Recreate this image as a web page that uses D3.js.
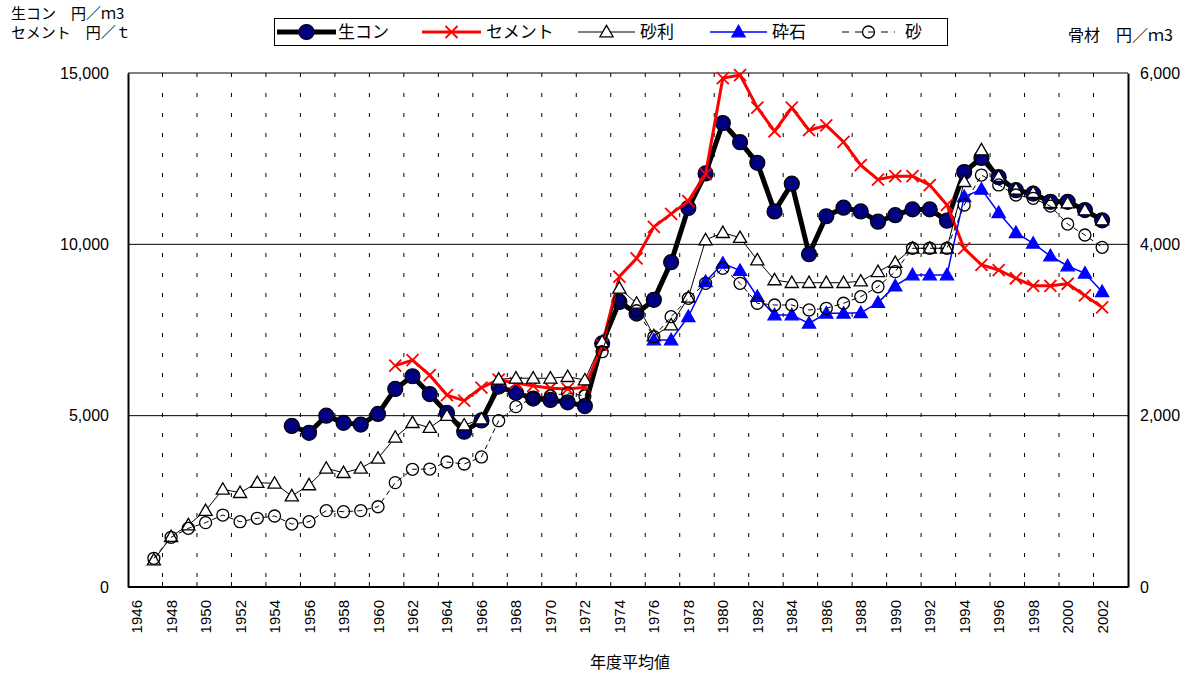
<!DOCTYPE html>
<html><head><meta charset="utf-8">
<script src="https://cdn.jsdelivr.net/npm/d3@7"></script>
<style>
body{margin:0;background:#fff;}
svg{display:block;}
text{font-family:"Liberation Sans",Arial,sans-serif;}
.jp{font-family:"Noto Sans CJK JP","Noto Sans",sans-serif;}
</style></head>
<body>
<svg id="c" width="1195" height="675"></svg>
<script>
const years = d3.range(1946, 2004);
const xTickLabels = d3.range(1946, 2004, 2);
const leftTicks = [0, 5000, 10000, 15000];
const rightTicks = [0, 2000, 4000, 6000];
const seriesNames = ["生コン", "セメント", "砂利", "砕石", "砂"];

const namaconYears = d3.range(1955, 2003);
const namacon = [4700,4500,5000,4790,4740,5050,5780,6150,5630,5080,4530,4860,5850,5670,5500,5460,5390,5280,7110,8320,7980,8380,9480,11060,12070,13540,12980,12380,10960,11770,9710,10820,11070,10960,10660,10850,11020,11020,10690,12110,12520,11960,11580,11480,11240,11240,11000,10700];

const cementYears = d3.range(1961, 2003);
const cement = [6460,6620,6180,5600,5440,5820,6050,5950,5870,5800,5780,5830,7060,9060,9590,10510,10890,11260,12050,14850,14940,13990,13300,13990,13330,13470,12990,12310,11890,11990,11990,11730,11150,9880,9400,9250,9010,8790,8790,8850,8510,8160];

const gravelYears = d3.range(1947, 2003);
const gravel = [315,587,724,891,1140,1101,1218,1210,1062,1191,1385,1334,1385,1502,1747,1918,1860,2000,1890,1960,2425,2437,2437,2437,2455,2416,2863,3487,3311,2930,3058,3381,4051,4136,4078,3817,3584,3552,3552,3552,3552,3570,3680,3786,3954,3954,3954,4731,5101,4790,4642,4603,4486,4482,4400,4284];

const crushedYears = d3.range(1976, 2003);
const crushed = [2883,2883,3155,3564,3778,3693,3389,3175,3175,3078,3195,3195,3200,3320,3514,3642,3642,3642,4556,4642,4369,4136,4012,3864,3747,3662,3447];

const sandYears = d3.range(1947, 2003);
const sand = [335,580,685,751,840,762,802,829,735,762,891,879,891,937,1218,1374,1377,1459,1436,1518,1941,2105,2206,2230,2265,2230,2747,3350,3225,2922,3155,3370,3545,3720,3545,3312,3292,3292,3234,3253,3312,3389,3505,3681,3954,3954,3954,4459,4809,4693,4576,4537,4447,4237,4109,3965];

const svg = d3.select("#c");
const L = 128, R = 1128, T = 73, B = 587;
const x = d3.scaleBand().domain(years).range([L, R]).paddingInner(0).paddingOuter(0);
const yL = d3.scaleLinear().domain([0, 15000]).range([B, T]);
const yR = d3.scaleLinear().domain([0, 6000]).range([B, T]);
const cx = yr => x(yr) + x.bandwidth() / 2;

// vertical dotted gridlines at every 2 categories
const boundaries = d3.range(1948, 2004, 2);
svg.append("g").selectAll("line").data(boundaries).join("line")
  .attr("x1", d => x(d)).attr("x2", d => x(d))
  .attr("y1", T).attr("y2", B)
  .attr("stroke", "#000").attr("stroke-width", 1)
  .attr("stroke-dasharray", "4,16");

// horizontal gridlines
svg.append("g").selectAll("line").data(leftTicks.filter(d => d > 0)).join("line")
  .attr("x1", L).attr("x2", R)
  .attr("y1", d => yL(d)).attr("y2", d => yL(d))
  .attr("stroke", "#000").attr("stroke-width", 1);

// axes
const gL = svg.append("g").attr("transform", `translate(${L},0)`)
  .call(d3.axisLeft(yL).tickValues(leftTicks).tickFormat(d3.format(",")).tickSize(0).tickPadding(19));
const gR = svg.append("g").attr("transform", `translate(${R},0)`)
  .call(d3.axisRight(yR).tickValues(rightTicks).tickFormat(d3.format(",")).tickSize(0).tickPadding(12));
[gL, gR].forEach(g => {
  g.select(".domain").attr("stroke", "#000").attr("stroke-width", 2);
  g.selectAll("text").attr("font-size", 16).attr("fill", "#000").attr("font-family", "Liberation Sans, Arial, sans-serif");
});

// bottom axis
const gB = svg.append("g").attr("transform", `translate(0,${B})`);
gB.append("line").attr("x1", L).attr("x2", R).attr("y1", 0).attr("y2", 0).attr("stroke", "#000").attr("stroke-width", 2);
gB.selectAll("line.tk").data(boundaries).join("line").attr("class", "tk")
  .attr("x1", d => x(d)).attr("x2", d => x(d)).attr("y1", 0).attr("y2", -5)
  .attr("stroke", "#000").attr("stroke-width", 1);
gB.selectAll("text").data(xTickLabels).join("text")
  .attr("transform", d => `translate(${cx(d) + 5.5},13) rotate(-90)`)
  .attr("text-anchor", "end")
  .attr("font-size", 15).attr("fill", "#000")
  .text(d => d);

// series
const lineL = d3.line().x(d => cx(d[0])).y(d => yL(d[1]));
const lineR = d3.line().x(d => cx(d[0])).y(d => yR(d[1]));
const zip = (ys, vs) => ys.map((y, i) => [y, vs[i]]);

const dNama = zip(namaconYears, namacon);
const dCem = zip(cementYears, cement);
const dGrv = zip(gravelYears, gravel);
const dCru = zip(crushedYears, crushed);
const dSand = zip(sandYears, sand);

const tri = d3.symbol().type(d3.symbolTriangle).size(75);

function drawCircle(g, px, py, r, fill, stroke, sw){
  g.append("circle").attr("cx", px).attr("cy", py).attr("r", r).attr("fill", fill).attr("stroke", stroke).attr("stroke-width", sw);
}
function drawX(g, px, py, s){
  g.append("path").attr("d", `M${px-s},${py-s}L${px+s},${py+s}M${px-s},${py+s}L${px+s},${py-s}`)
    .attr("stroke", "#ff0000").attr("stroke-width", 1.8).attr("fill", "none");
}
function drawTri(g, px, py, fill, stroke){
  g.append("path").attr("d", tri()).attr("transform", `translate(${px},${py + 1})`)
    .attr("fill", fill).attr("stroke", stroke).attr("stroke-width", 1.3);
}

// 生コン
const g1 = svg.append("g");
g1.append("path").datum(dNama).attr("d", lineL).attr("fill", "none").attr("stroke", "#000").attr("stroke-width", 5).attr("stroke-linejoin", "round");
dNama.forEach(d => drawCircle(g1, cx(d[0]), yL(d[1]), 7.5, "#000080", "#000", 1.2));

// セメント
const g2 = svg.append("g");
g2.append("path").datum(dCem).attr("d", lineL).attr("fill", "none").attr("stroke", "#ff0000").attr("stroke-width", 3).attr("stroke-linejoin", "round");
dCem.forEach(d => drawX(g2, cx(d[0]), yL(d[1]), 6));

// 砂利
const g3 = svg.append("g");
g3.append("path").datum(dGrv).attr("d", lineR).attr("fill", "none").attr("stroke", "#000").attr("stroke-width", 1);
dGrv.forEach(d => drawTri(g3, cx(d[0]), yR(d[1]), "#fff", "#000"));

// 砕石
const g4 = svg.append("g");
g4.append("path").datum(dCru).attr("d", lineR).attr("fill", "none").attr("stroke", "#0000ff").attr("stroke-width", 1.5);
dCru.forEach(d => drawTri(g4, cx(d[0]), yR(d[1]), "#0000ff", "#0000ff"));

// 砂
const g5 = svg.append("g");
g5.append("path").datum(dSand).attr("d", lineR).attr("fill", "none").attr("stroke", "#000").attr("stroke-width", 1).attr("stroke-dasharray", "5,4");
dSand.forEach(d => drawCircle(g5, cx(d[0]), yR(d[1]), 6, "none", "#000", 1.3));

// legend
const lg = svg.append("g");
lg.append("rect").attr("x", 274.5).attr("y", 18.5).attr("width", 673).attr("height", 27)
  .attr("fill", "#fff").attr("stroke", "#000").attr("stroke-width", 1);
const ly = 32;
const legendItems = [
  {x0: 277, x1: 336, tx: 338},
  {x0: 422, x1: 481, tx: 486},
  {x0: 578, x1: 635, tx: 640},
  {x0: 710, x1: 767, tx: 772},
  {x0: 842, x1: 895, tx: 905}
];
legendItems.forEach((it, i) => {
  const mx = (it.x0 + it.x1) / 2;
  if (i === 0) {
    lg.append("line").attr("x1", it.x0).attr("x2", it.x1).attr("y1", ly).attr("y2", ly).attr("stroke", "#000").attr("stroke-width", 5);
    drawCircle(lg, mx, ly, 7.5, "#000080", "#000", 1.2);
  } else if (i === 1) {
    lg.append("line").attr("x1", it.x0).attr("x2", it.x1).attr("y1", ly).attr("y2", ly).attr("stroke", "#ff0000").attr("stroke-width", 3);
    drawX(lg, mx, ly, 6);
  } else if (i === 2) {
    lg.append("line").attr("x1", it.x0).attr("x2", it.x1).attr("y1", ly).attr("y2", ly).attr("stroke", "#000").attr("stroke-width", 1);
    drawTri(lg, mx, ly, "#fff", "#000");
  } else if (i === 3) {
    lg.append("line").attr("x1", it.x0).attr("x2", it.x1).attr("y1", ly).attr("y2", ly).attr("stroke", "#0000ff").attr("stroke-width", 1.5);
    drawTri(lg, mx, ly, "#0000ff", "#0000ff");
  } else {
    lg.append("line").attr("x1", it.x0).attr("x2", it.x1).attr("y1", ly).attr("y2", ly).attr("stroke", "#000").attr("stroke-width", 1).attr("stroke-dasharray", "7,6");
    drawCircle(lg, mx, ly, 6, "none", "#000", 1.3);
  }
  lg.append("text").attr("class", "jp").attr("x", it.tx).attr("y", ly + 6)
    .attr("font-size", 17).attr("fill", "#000").text(seriesNames[i]);
});

// axis titles
svg.append("text").attr("class", "jp").attr("font-size", 15).attr("fill", "#000")
  .attr("x", 11).attr("y", 19).text("生コン　円／ｍ3");
svg.append("text").attr("class", "jp").attr("font-size", 15).attr("fill", "#000")
  .attr("x", 11).attr("y", 38).text("セメント　円／ｔ");
svg.append("text").attr("class", "jp").attr("x", 1068).attr("y", 41).attr("font-size", 16).attr("fill", "#000").text("骨材　円／ｍ3");
svg.append("text").attr("class", "jp").attr("x", 630).attr("y", 668).attr("text-anchor", "middle").attr("font-size", 16).attr("fill", "#000").text("年度平均値");
</script>
</body></html>
